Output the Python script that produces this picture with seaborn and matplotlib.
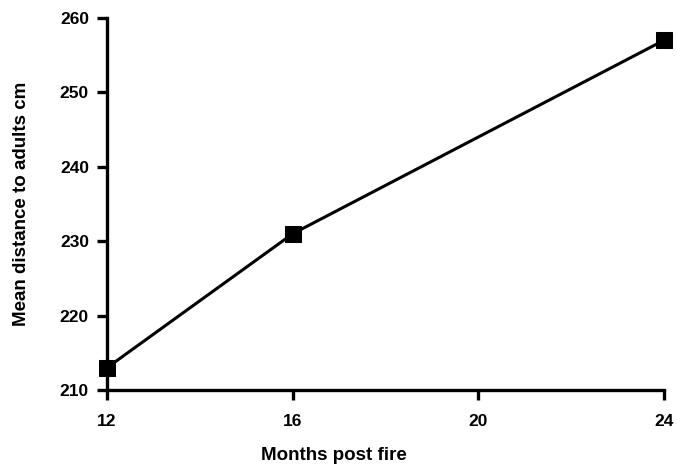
import matplotlib
matplotlib.use("Agg")
import matplotlib.pyplot as plt
import seaborn as sns
import pandas as pd

months = [12, 16, 24]
distance = [213, 231, 257]
x_ticks = [12, 16, 20, 24]
y_ticks = [210, 220, 230, 240, 250, 260]

sns.set_theme(style="ticks")
plt.rcParams["font.family"] = ["Liberation Sans", "DejaVu Sans"]

df = pd.DataFrame({"Months post fire": months, "Mean distance to adults cm": distance})

fig = plt.figure(figsize=(6.77, 4.70), dpi=100)
ax = fig.add_axes([0.158, 0.170, 0.823, 0.792])

sns.lineplot(data=df, x="Months post fire", y="Mean distance to adults cm",
             marker="s", markersize=11, color="black", linewidth=2.2,
             markeredgecolor="black", ax=ax, clip_on=False)

ax.set_xlim(12, 24)
ax.set_ylim(210, 260)
ax.set_xticks(x_ticks)
ax.set_yticks(y_ticks)
ax.set_xticklabels([str(t) for t in x_ticks], fontsize=12.5, fontweight="bold")
ax.set_yticklabels([str(t) for t in y_ticks], fontsize=12.5, fontweight="bold")
ax.tick_params(axis="both", direction="out", length=7, width=2.4, color="black",
               labelcolor="black", pad=6)
ax.tick_params(axis="x", pad=10)
for side in ("top", "right"):
    ax.spines[side].set_visible(False)
for side in ("left", "bottom"):
    ax.spines[side].set_linewidth(2.4)
    ax.spines[side].set_color("black")

ax.set_xlabel("Months post fire", fontsize=13.5, fontweight="bold", color="black")
ax.set_ylabel("Mean distance to adults cm", fontsize=13.5, fontweight="bold", color="black")
ax.xaxis.set_label_coords(0.407, -0.152)
ax.yaxis.set_label_coords(-0.138, 0.5)

fig.savefig("out.png", dpi=100)
